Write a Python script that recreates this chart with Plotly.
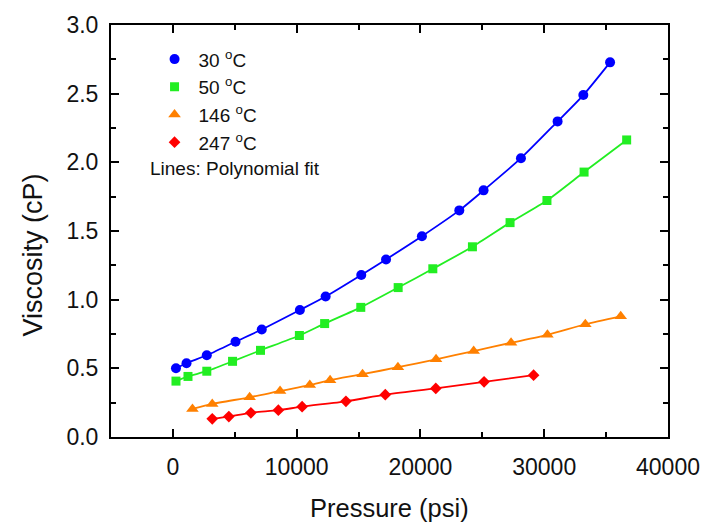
import plotly.graph_objects as go

# ---- data ----
p30 = [250, 1100, 2740, 5060, 7180, 10260, 12340, 15220, 17220, 20120, 23140, 25100, 28120, 31080, 33160, 35320]
v30 = [0.50, 0.537, 0.595, 0.694, 0.783, 0.925, 1.023, 1.18, 1.293, 1.462, 1.650, 1.796, 2.030, 2.298, 2.490, 2.728]

p50 = [250, 1220, 2740, 4820, 7080, 10220, 12260, 15180, 18200, 21000, 24200, 27240, 30220, 33220, 36660]
v50 = [0.407, 0.441, 0.479, 0.551, 0.631, 0.739, 0.826, 0.944, 1.088, 1.225, 1.385, 1.561, 1.722, 1.929, 2.163]

p146 = [1580, 3180, 6200, 8660, 11060, 12700, 15320, 18180, 21260, 24300, 27320, 30260, 33320, 36180]
v146 = [0.204, 0.241, 0.289, 0.335, 0.378, 0.414, 0.457, 0.508, 0.566, 0.626, 0.686, 0.744, 0.821, 0.879]

p247 = [3180, 4520, 6300, 8520, 10440, 13980, 17160, 21240, 25140, 29140]
v247 = [0.132, 0.149, 0.176, 0.195, 0.221, 0.260, 0.308, 0.354, 0.402, 0.450]

series_names = ["30 <sup>o</sup>C", "50 <sup>o</sup>C", "146 <sup>o</sup>C", "247 <sup>o</sup>C"]
series_x = [p30, p50, p146, p247]
series_y = [v30, v50, v146, v247]
colors = ["#0000FF", "#22EE22", "#FF8000", "#FF0000"]
symbols = ["circle", "square", "triangle-up", "diamond"]
sizes = [10, 9, 11, 9]

fig = go.Figure()
for i in range(4):
    fig.add_trace(go.Scatter(
        x=series_x[i], y=series_y[i], mode="lines+markers",
        line=dict(color=colors[i], width=1.8, shape="spline", smoothing=0.6),
        marker=dict(color=colors[i], symbol=symbols[i], size=sizes[i], line=dict(width=0)),
        showlegend=False, hoverinfo="skip"))
# legend entries (markers only)
for i in range(4):
    fig.add_trace(go.Scatter(
        x=[None], y=[None], mode="markers", name=series_names[i],
        legendgroup="g%d" % i,
        marker=dict(color=colors[i], symbol=symbols[i], size=sizes[i], line=dict(width=0))))

font = "Liberation Sans, Arial, sans-serif"
axis_common = dict(
    showline=True, linecolor="black", linewidth=2, mirror="allticks",
    ticks="inside", ticklen=8, tickwidth=2, tickcolor="black",
    showgrid=False, zeroline=False,
    tickfont=dict(family=font, size=23, color="#111"),
)

fig.update_xaxes(range=[-5000, 40000], tick0=0, dtick=10000, tickformat="d",
                 minor=dict(dtick=5000, ticks="inside", ticklen=5, tickwidth=2, tickcolor="black"),
                 ticklabelstandoff=8, **axis_common)
fig.update_yaxes(range=[0, 3.0], tick0=0, dtick=0.5, tickformat=".1f",
                 minor=dict(dtick=0.25, ticks="inside", ticklen=5, tickwidth=2, tickcolor="black"),
                 ticklabelstandoff=6, **axis_common)

fig.update_layout(
    width=712, height=525,
    margin=dict(l=111, r=39, t=23, b=88),
    plot_bgcolor="white", paper_bgcolor="white",
    font=dict(family=font, color="#111"),
    legend=dict(x=0.071, y=0.963, xanchor="left", yanchor="top",
                font=dict(family=font, size=19, color="#111"),
                bgcolor="rgba(0,0,0,0)", traceorder="grouped", tracegroupgap=0,
                itemwidth=38),
    annotations=[
        dict(text="Lines: Polynomial fit", xref="paper", yref="paper",
             x=(148 - 111) / 562, y=(437 - 167) / 414, xanchor="left", yanchor="middle",
             showarrow=False, font=dict(family=font, size=19, color="#111")),
        dict(text="Pressure (psi)", xref="paper", yref="paper",
             x=0.5, y=(437 - 508) / 414, xanchor="center", yanchor="middle",
             showarrow=False, font=dict(family=font, size=25.5, color="#111")),
        dict(text="Viscosity (cP)", xref="paper", yref="paper", textangle=-90,
             x=(32 - 111) / 562, y=(437 - 254) / 414, xanchor="center", yanchor="middle",
             showarrow=False, font=dict(family=font, size=27, color="#111")),
    ],
)

fig.write_html("out.html")
